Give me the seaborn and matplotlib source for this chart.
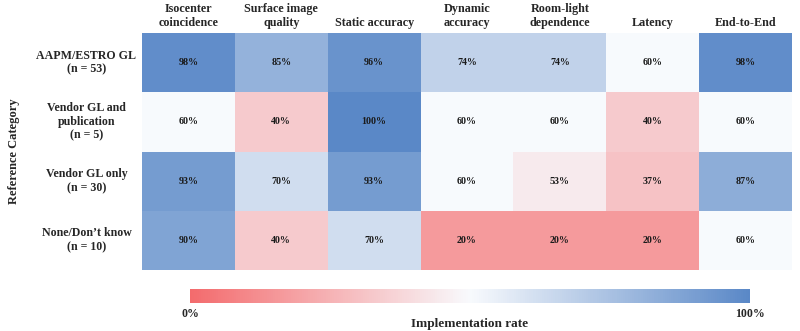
import numpy as np
import pandas as pd
import seaborn as sns
import matplotlib
matplotlib.use("Agg")
import matplotlib.pyplot as plt
from matplotlib.colors import LinearSegmentedColormap, TwoSlopeNorm

categories = ["AAPM/ESTRO GL\n(n = 53)", "Vendor GL and\npublication\n(n = 5)",
              "Vendor GL only\n(n = 30)", "None/Don\u2019t know\n(n = 10)"]
tests = ["Isocenter\ncoincidence", "Surface image\nquality", "Static accuracy",
         "Dynamic\naccuracy", "Room-light\ndependence", "Latency", "End-to-End"]
aapm = [98, 85, 96, 74, 74, 60, 98]
vendor_pub = [60, 40, 100, 60, 60, 40, 60]
vendor_only = [93, 70, 93, 60, 53, 37, 87]
none_dk = [90, 40, 70, 20, 20, 20, 60]
cbar_ticks = [0, 100]
cbar_ticklabels = ["0%", "100%"]

df = pd.DataFrame([aapm, vendor_pub, vendor_only, none_dk], index=categories, columns=tests)
annot = df.map(lambda v: f"{v:.0f}%")

sns.set_theme(style="white")
plt.rcParams["font.family"] = ["Liberation Serif", "DejaVu Serif"]

cmap = LinearSegmentedColormap.from_list("rb", ["#F36B6D", "#F8FAFD", "#5A88C7"])
norm = TwoSlopeNorm(vmin=0, vcenter=60, vmax=100)

fig = plt.figure(figsize=(8, 3.31), dpi=100)
ax = fig.add_axes([142/800, 1-270/331, 650/800, 237/331])
cax = fig.add_axes([190/800, 1-303/331, 560/800, 14/331])

sns.heatmap(df, ax=ax, cmap=cmap, norm=norm, annot=annot, fmt="",
            annot_kws={"fontsize": 7.2, "fontweight": "bold", "color": "#1a1a1a"},
            cbar=False, linewidths=0)
ax.xaxis.tick_top()
ax.set_xticklabels(tests, rotation=0, fontsize=8.7, fontweight="bold", ha="center")
ax.set_yticklabels(categories, rotation=0, fontsize=8.6, fontweight="bold", ha="center", ma="center")
ax.tick_params(axis="both", length=0)
ax.tick_params(axis="y", pad=40)
ax.tick_params(axis="x", pad=3)
ax.set_ylabel("Reference Category", fontsize=9, fontweight="bold")
ax.yaxis.set_label_coords(-0.188, 0.5)
ax.set_xlabel("")

cb = fig.colorbar(ax.collections[0], cax=cax, orientation="horizontal")
cb.outline.set_visible(False)
cb.set_ticks(cbar_ticks)
cb.set_ticklabels(cbar_ticklabels, fontweight="bold", fontsize=8.6)
cax.tick_params(length=0, pad=3.5)
cb.set_label("Implementation rate", fontsize=9.5, fontweight="bold", labelpad=-1.5)

fig.savefig("out.png", dpi=100)
